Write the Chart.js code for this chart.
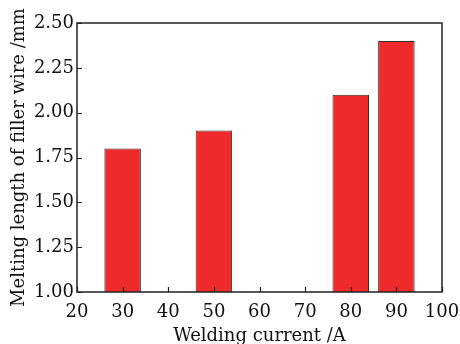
<!DOCTYPE html>
<html>
<head>
<meta charset="utf-8">
<script src="https://cdn.jsdelivr.net/npm/chart.js@4"></script>
<style>
html,body{margin:0;padding:0;background:#fff;}
#wrap{width:460px;height:344px;}
</style>
</head>
<body>
<div id="wrap"><canvas id="c" width="460" height="344"></canvas></div>
<script>
const currents = [30, 50, 80, 90];
const meltLength = [1.80, 1.90, 2.10, 2.40];
const xTicks = [20, 30, 40, 50, 60, 70, 80, 90, 100];
const yTicks = [1.00, 1.25, 1.50, 1.75, 2.00, 2.25, 2.50];

const FONT = "'DejaVu Serif', 'Liberation Serif', serif";

const frameAndTicks = {
  id: 'frameAndTicks',
  afterDatasetsDraw(chart) {
    const ctx = chart.ctx, a = chart.chartArea;
    const xs = chart.scales.x, ys = chart.scales.y;
    ctx.save();
    ctx.strokeStyle = '#222';
    ctx.lineWidth = 1.2;
    ctx.beginPath();
    xTicks.forEach(v => {
      const px = Math.round(xs.getPixelForValue(v)) + 0.5;
      ctx.moveTo(px, a.bottom); ctx.lineTo(px, a.bottom - 5);
    });
    yTicks.forEach(v => {
      const py = Math.round(ys.getPixelForValue(v)) + 0.5;
      ctx.moveTo(a.left, py); ctx.lineTo(a.left + 5, py);
    });
    ctx.stroke();
    ctx.lineWidth = 1.5;
    ctx.strokeRect(a.left, a.top, a.right - a.left, a.bottom - a.top);
    ctx.restore();
  }
};

new Chart(document.getElementById('c'), {
  type: 'bar',
  data: {
    datasets: [{
      data: currents.map((x, i) => ({x: x, y: meltLength[i]})),
      backgroundColor: '#EE2A2A',
      borderColor: '#3a2a2a',
      borderWidth: 1,
      borderSkipped: 'bottom',
      categoryPercentage: 0.8,
      barPercentage: 1.0
    }]
  },
  options: {
    responsive: false,
    animation: false,
    devicePixelRatio: 1,
    layout: {padding: {top: 23, right: 18, left: 0, bottom: 0}},
    plugins: {legend: {display: false}, tooltip: {enabled: false}},
    scales: {
      x: {
        type: 'linear',
        min: 20, max: 100,
        offset: false,
        grid: {display: false, drawTicks: false, offset: false},
        border: {display: false},
        afterBuildTicks(s) { s.ticks = xTicks.map(v => ({value: v})); },
        afterFit(s) { s.height = 52; s.paddingLeft = 0; s.paddingRight = 0; },
        ticks: {
          color: '#111', padding: 10,
          font: {family: FONT, size: 18},
          maxRotation: 0, autoSkip: false,
          callback: v => String(v)
        },
        title: {
          display: true, text: 'Welding current /A', color: '#111',
          font: {family: FONT, size: 18},
          padding: {top: 0, bottom: -3}
        }
      },
      y: {
        min: 1, max: 2.5,
        grid: {display: false, drawTicks: false},
        border: {display: false},
        afterBuildTicks(s) { s.ticks = yTicks.map(v => ({value: v})); },
        afterFit(s) { s.width = 77; s.paddingTop = 0; s.paddingBottom = 0; },
        ticks: {
          color: '#111', padding: 3,
          font: {family: FONT, size: 18},
          autoSkip: false,
          callback: v => Number(v).toFixed(2)
        },
        title: {
          display: true, text: 'Melting length of filler wire /mm', color: '#111',
          font: {family: FONT, size: 18},
          padding: {top: 9, bottom: 0}
        }
      }
    }
  },
  plugins: [frameAndTicks]
});
</script>
</body>
</html>
